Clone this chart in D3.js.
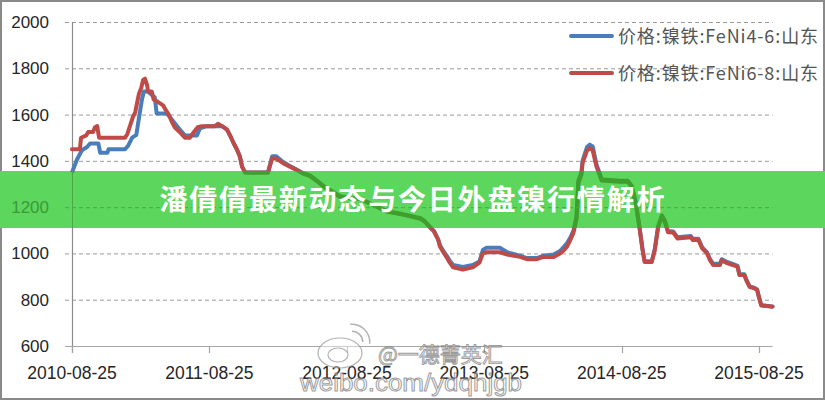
<!DOCTYPE html>
<html>
<head>
<meta charset="utf-8">
<script src="https://cdn.jsdelivr.net/npm/d3@7/dist/d3.min.js"></script>
<style>
  html, body { margin: 0; padding: 0; background: #fff; }
  svg { display: block; }
</style>
</head>
<body>
<svg id="chart" width="825" height="400"></svg>
<script>
// ---------------- DATA ----------------
const seriesNames = ["价格:镍铁:FeNi4-6:山东", "价格:镍铁:FeNi6-8:山东"];
const yTicks = [600, 800, 1000, 1200, 1400, 1600, 1800, 2000];
const xTickLabels = ["2010-08-25", "2011-08-25", "2012-08-25", "2013-08-25", "2014-08-25", "2015-08-25"];
const bannerTitle = "潘倩倩最新动态与今日外盘镍行情解析";
const watermarkName = "@一德菁英汇";
const watermarkUrl = "weibo.com/ydqhjgb";

// FeNi4-6 (blue)
const feni46 = [
  ["2010-08-25",1350],["2010-09-07",1405],["2010-09-20",1445],["2010-10-04",1460],["2010-10-12",1475],
  ["2010-11-03",1475],["2010-11-08",1435],["2010-11-27",1435],["2010-11-30",1450],["2011-01-13",1450],
  ["2011-01-21",1465],["2011-02-01",1500],["2011-02-12",1512],["2011-02-17",1565],["2011-02-27",1665],
  ["2011-03-04",1700],["2011-03-15",1700],["2011-03-25",1685],["2011-04-02",1675],["2011-04-07",1605],
  ["2011-05-04",1605],["2011-05-12",1590],["2011-05-25",1563],["2011-06-13",1525],["2011-06-21",1510],
  ["2011-07-23",1510],["2011-07-31",1540],["2011-08-18",1550],["2011-09-28",1550],["2011-10-11",1535],
  ["2011-10-22",1500],["2011-10-29",1475],["2011-11-06",1450],["2011-11-14",1420],["2011-11-20",1375],
  ["2011-11-28",1350],["2012-01-28",1350],["2012-02-08",1420],["2012-02-19",1420],["2012-03-08",1395],
  ["2012-03-26",1378],["2012-04-14",1362],["2012-04-30",1347],["2012-05-18",1337],["2012-06-08",1312],
  ["2012-06-27",1287],["2012-07-18",1267],["2012-08-06",1247],["2012-09-02",1240],["2012-09-29",1237],
  ["2012-10-25",1217],["2012-11-20",1197],["2012-12-10",1182],["2013-01-14",1172],["2013-02-10",1162],
  ["2013-03-08",1152],["2013-03-21",1137],["2013-04-04",1112],["2013-04-13",1097],["2013-04-24",1062],
  ["2013-04-29",1035],["2013-05-10",1005],["2013-05-18",988],["2013-05-25",968],["2013-06-03",950],
  ["2013-06-29",942],["2013-07-25",950],["2013-08-12",965],["2013-08-21",1015],["2013-08-31",1025],
  ["2013-10-05",1025],["2013-10-25",1005],["2013-11-28",990],["2013-12-16",980],["2014-01-12",980],
  ["2014-01-28",990],["2014-02-25",995],["2014-03-14",1010],["2014-03-25",1030],["2014-04-02",1045],
  ["2014-04-11",1070],["2014-04-19",1100],["2014-04-27",1160],["2014-05-02",1315],["2014-05-10",1350],
  ["2014-05-13",1400],["2014-05-25",1460],["2014-06-01",1470],["2014-06-09",1462],["2014-06-19",1385],
  ["2014-07-03",1320],["2014-08-20",1314],["2014-09-10",1314],["2014-09-20",1294],["2014-10-01",1224],
  ["2014-10-11",1118],["2014-10-19",1024],["2014-10-25",966],["2014-11-13",966],["2014-11-21",1018],
  ["2014-11-30",1118],["2014-12-10",1164],["2014-12-18",1140],["2014-12-26",1097],["2015-01-09",1095],
  ["2015-01-20",1070],["2015-02-25",1075],["2015-03-02",1063],["2015-03-17",1063],["2015-03-27",1026],
  ["2015-04-09",1004],["2015-04-17",975],["2015-04-25",955],["2015-05-13",955],["2015-05-18",975],
  ["2015-06-01",963],["2015-06-16",955],["2015-06-29",946],["2015-07-04",910],["2015-07-17",910],
  ["2015-07-22",888],["2015-07-31",858],["2015-08-12",852],["2015-08-20",844],["2015-08-25",812],
  ["2015-08-31",776],["2015-09-30",771]
];

// FeNi6-8 (red)
const feni68 = [
  ["2010-08-25",1450],["2010-09-15",1450],["2010-09-18",1500],["2010-10-02",1510],["2010-10-07",1525],
  ["2010-10-20",1525],["2010-10-25",1545],["2010-10-31",1550],["2010-11-03",1520],["2010-11-05",1500],
  ["2011-01-13",1500],["2011-01-19",1515],["2011-01-24",1540],["2011-01-29",1565],["2011-02-03",1590],
  ["2011-02-09",1610],["2011-02-14",1650],["2011-02-19",1690],["2011-02-25",1715],["2011-03-02",1750],
  ["2011-03-07",1755],["2011-03-13",1725],["2011-03-15",1700],["2011-03-25",1700],["2011-03-30",1665],
  ["2011-04-10",1655],["2011-04-24",1640],["2011-05-01",1620],["2011-05-09",1600],["2011-05-17",1570],
  ["2011-05-25",1545],["2011-06-07",1525],["2011-06-21",1500],["2011-07-04",1500],["2011-07-15",1525],
  ["2011-07-25",1545],["2011-08-05",1550],["2011-09-09",1550],["2011-09-17",1560],["2011-09-28",1550],
  ["2011-10-11",1535],["2011-10-22",1500],["2011-10-29",1475],["2011-11-06",1450],["2011-11-14",1420],
  ["2011-11-20",1375],["2011-11-28",1350],["2012-01-28",1350],["2012-02-08",1410],["2012-02-19",1410],
  ["2012-03-08",1390],["2012-03-26",1375],["2012-04-14",1360],["2012-04-30",1345],["2012-05-18",1335],
  ["2012-06-08",1310],["2012-06-27",1285],["2012-07-18",1265],["2012-08-06",1245],["2012-09-02",1238],
  ["2012-09-29",1235],["2012-10-25",1215],["2012-11-20",1195],["2012-12-10",1180],["2013-01-14",1170],
  ["2013-02-10",1160],["2013-03-08",1150],["2013-03-21",1135],["2013-04-04",1110],["2013-04-13",1095],
  ["2013-04-24",1060],["2013-04-29",1030],["2013-05-10",1000],["2013-05-18",980],["2013-05-25",960],
  ["2013-06-03",940],["2013-06-29",930],["2013-07-25",940],["2013-08-12",960],["2013-08-21",1000],
  ["2013-08-31",1005],["2013-10-05",1005],["2013-10-25",995],["2013-11-28",985],["2013-12-16",975],
  ["2014-01-12",975],["2014-01-28",985],["2014-02-25",985],["2014-03-14",1000],["2014-03-25",1015],
  ["2014-04-02",1030],["2014-04-11",1060],["2014-04-19",1090],["2014-04-27",1150],["2014-05-02",1305],
  ["2014-05-10",1340],["2014-05-13",1390],["2014-05-25",1445],["2014-06-01",1455],["2014-06-09",1445],
  ["2014-06-19",1375],["2014-07-03",1315],["2014-08-20",1310],["2014-09-10",1310],["2014-09-20",1290],
  ["2014-10-01",1220],["2014-10-11",1115],["2014-10-19",1020],["2014-10-25",963],["2014-11-13",963],
  ["2014-11-21",1015],["2014-11-30",1115],["2014-12-10",1160],["2014-12-18",1135],["2014-12-26",1092],
  ["2015-01-09",1090],["2015-01-20",1065],["2015-02-25",1070],["2015-03-02",1058],["2015-03-17",1058],
  ["2015-03-27",1022],["2015-04-09",1000],["2015-04-17",970],["2015-04-25",950],["2015-05-13",950],
  ["2015-05-18",970],["2015-06-01",958],["2015-06-16",950],["2015-06-29",942],["2015-07-04",907],
  ["2015-07-17",907],["2015-07-22",885],["2015-07-31",855],["2015-08-12",850],["2015-08-20",842],
  ["2015-08-25",810],["2015-08-31",775],["2015-09-30",770]
];

// ---------------- CHART ----------------
const parse = d3.timeParse("%Y-%m-%d");
const colors = ["#4a7ebb", "#be4b48"];
const svg = d3.select("#chart");

const x = d3.scaleTime()
  .domain([parse(xTickLabels[0]), parse(xTickLabels[xTickLabels.length - 1])])
  .range([72, 759]);
const y = d3.scaleLinear().domain([600, 2000]).range([346, 22]);

const lastDate = parse(feni68[feni68.length - 1][0]);
const plotRight = x(lastDate);

// outer frame
svg.append("rect").attr("x", 1).attr("y", 1).attr("width", 823).attr("height", 398)
  .attr("fill", "#fff").attr("stroke", "#8a8a8a").attr("stroke-width", 2);

// grid lines (dashed) with outward tick
const gridG = svg.append("g");
gridG.selectAll("line").data(yTicks.filter(v => v > 600)).join("line")
  .attr("x1", 65).attr("x2", plotRight)
  .attr("y1", d => y(d) + 0.5).attr("y2", d => y(d) + 0.5)
  .attr("stroke", "#9a9a9a").attr("stroke-width", 1).attr("stroke-dasharray", "4,3");

// x axis baseline
svg.append("line").attr("x1", 65).attr("x2", plotRight)
  .attr("y1", y(600) + 0.5).attr("y2", y(600) + 0.5)
  .attr("stroke", "#a6a6a6").attr("stroke-width", 1.2);
// y axis line
svg.append("line").attr("x1", 72.5).attr("x2", 72.5)
  .attr("y1", y(2000)).attr("y2", y(600) + 7)
  .attr("stroke", "#8c8c8c").attr("stroke-width", 1.2);

// x ticks
svg.append("g").selectAll("line").data(xTickLabels).join("line")
  .attr("x1", d => Math.round(x(parse(d))) + 0.5).attr("x2", d => Math.round(x(parse(d))) + 0.5)
  .attr("y1", y(600)).attr("y2", y(600) + 7)
  .attr("stroke", "#a6a6a6").attr("stroke-width", 1.2);

// y labels
svg.append("g").selectAll("text").data(yTicks).join("text")
  .attr("x", 49).attr("y", d => y(d) + 6)
  .attr("text-anchor", "end")
  .attr("font-family", "Liberation Sans, Arial, sans-serif")
  .attr("font-size", 17).attr("fill", "#262626")
  .text(d => d);

// x labels
svg.append("g").selectAll("text").data(xTickLabels).join("text")
  .attr("x", d => x(parse(d))).attr("y", 379)
  .attr("text-anchor", "middle")
  .attr("font-family", "Liberation Sans, Arial, sans-serif")
  .attr("font-size", 17.5).attr("fill", "#262626")
  .text(d => d);

// lines
const line = d3.line()
  .x(d => x(parse(d[0])))
  .y(d => y(d[1]))
  .curve(d3.curveLinear);

const allSeries = [feni46, feni68];
const linesG = svg.append("g");
allSeries.forEach((s, i) => {
  linesG.append("path").datum(s)
    .attr("d", line)
    .attr("fill", "none")
    .attr("stroke", colors[i])
    .attr("stroke-width", 4)
    .attr("stroke-linejoin", "round")
    .attr("stroke-linecap", "round");
});

// legend
const legend = svg.append("g");
const legendY = [36, 73];
seriesNames.forEach((name, i) => {
  legend.append("line").attr("x1", 571).attr("x2", 612)
    .attr("y1", legendY[i]).attr("y2", legendY[i])
    .attr("stroke", colors[i]).attr("stroke-width", 4).attr("stroke-linecap", "round");
  legend.append("text").attr("x", 618).attr("y", legendY[i] + 7)
    .attr("font-family", "Noto Sans CJK SC, sans-serif")
    .attr("font-size", 18).attr("fill", "#555")
    .attr("textLength", 200).attr("lengthAdjust", "spacing")
    .text(name);
});

// banner overlay
const bannerTop = 171, bannerH = 57;
svg.append("defs").append("clipPath").attr("id", "bannerClip")
  .append("rect").attr("x", 0).attr("y", bannerTop).attr("width", 825).attr("height", bannerH);

svg.append("rect").attr("x", 0).attr("y", bannerTop).attr("width", 825).attr("height", bannerH)
  .attr("fill", "#5cd65c").attr("opacity", 1);

// lines seen through the banner
const thru = svg.append("g").attr("clip-path", "url(#bannerClip)");
allSeries.forEach((s, i) => {
  thru.append("path").datum(s)
    .attr("d", line)
    .attr("fill", "none")
    .attr("stroke", "#3f9e2c")
    .attr("stroke-width", 4)
    .attr("stroke-linejoin", "round");
});
// faint gridline in banner
thru.append("line").attr("x1", 65).attr("x2", plotRight)
  .attr("y1", y(1200) + 0.5).attr("y2", y(1200) + 0.5)
  .attr("stroke", "#4aa84a").attr("stroke-width", 1).attr("stroke-dasharray", "4,3");
thru.append("line").attr("x1", 72.5).attr("x2", 72.5)
  .attr("y1", bannerTop).attr("y2", bannerTop + bannerH)
  .attr("stroke", "#4aa84a").attr("stroke-width", 1);
thru.append("text").attr("x", 49).attr("y", y(1200) + 6)
  .attr("text-anchor", "end")
  .attr("font-family", "Liberation Sans, Arial, sans-serif")
  .attr("font-size", 17).attr("fill", "#3a9a3a")
  .text(1200);

svg.append("text").attr("x", 412).attr("y", 210)
  .attr("text-anchor", "middle")
  .attr("font-family", "Noto Sans CJK SC, sans-serif")
  .attr("font-weight", "bold")
  .attr("font-size", 28)
  .attr("fill", "#ffffff")
  .attr("textLength", 505).attr("lengthAdjust", "spacing")
  .text(bannerTitle);

// watermark
const wm = svg.append("g").attr("opacity", 0.75);
wm.append("ellipse").attr("cx", 340).attr("cy", 353).attr("rx", 22).attr("ry", 15)
  .attr("fill", "rgba(255,255,255,0.6)").attr("stroke", "#9a9a9a").attr("stroke-width", 1.2);
wm.append("ellipse").attr("cx", 338).attr("cy", 355).attr("rx", 10).attr("ry", 7)
  .attr("fill", "none").attr("stroke", "#9a9a9a").attr("stroke-width", 1.2);
wm.append("path").attr("d", d3.arc()({innerRadius: 10, outerRadius: 11.5, startAngle: 0, endAngle: Math.PI / 2}))
  .attr("transform", "translate(352,342)").attr("fill", "#9a9a9a");
wm.append("path").attr("d", d3.arc()({innerRadius: 17, outerRadius: 18.5, startAngle: -0.1, endAngle: Math.PI / 2 + 0.1}))
  .attr("transform", "translate(352,342)").attr("fill", "#9a9a9a");
wm.append("text").attr("x", 378).attr("y", 362)
  .attr("font-family", "Noto Sans CJK SC, sans-serif").attr("font-size", 21)
  .attr("fill", "rgba(255,255,255,0.7)").attr("stroke", "#7a7a7a").attr("stroke-width", 0.9)
  .text(watermarkName);
wm.append("text").attr("x", 300).attr("y", 391)
  .attr("font-family", "Liberation Sans, Arial, sans-serif").attr("font-size", 23)
  .attr("fill", "rgba(255,255,255,0.7)").attr("stroke", "#7a7a7a").attr("stroke-width", 0.9)
  .attr("textLength", 222).attr("lengthAdjust", "spacingAndGlyphs")
  .text(watermarkUrl);
</script>
</body>
</html>
